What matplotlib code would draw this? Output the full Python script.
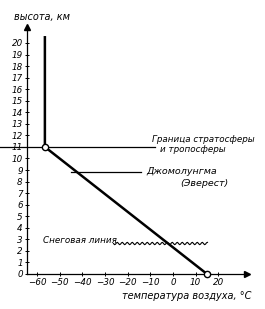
import matplotlib
matplotlib.use("Agg")
import matplotlib.pyplot as plt

# data
temp_profile_T = [15, -56.5, -56.5]
temp_profile_h = [0, 11, 20.6]
tropopause_h = 11
everest_h = 8.85
snowline_h = 2.7
yticks = list(range(0, 21))
xticks = [-60, -50, -40, -30, -20, -10, 0, 10, 20]

FONT = dict(family="DejaVu Sans", style="italic")

fig = plt.figure(figsize=(2.65, 3.09), dpi=100)
ax = fig.add_axes([0, 0, 1, 1])
ax.set_xlim(-76.3, 40.6)
ax.set_ylim(-3.03, 23.72)
ax.patch.set_alpha(0)

yax_x = -64.4
ax.spines['left'].set_position(('data', yax_x))
ax.spines['bottom'].set_position(('data', 0))
ax.spines['right'].set_visible(False)
ax.spines['top'].set_visible(False)
ax.spines['left'].set_bounds(0, 21.2)
ax.spines['bottom'].set_bounds(yax_x, 32)
for s in ('left', 'bottom'):
    ax.spines[s].set_linewidth(0.9)

# arrows
ax.plot([yax_x], [21.4], marker='^', color='black', markersize=4, clip_on=False)
ax.plot([32.6], [0], marker='>', color='black', markersize=4, clip_on=False)

ax.set_yticks(yticks)
ax.set_yticklabels([str(v) for v in yticks], **FONT, fontsize=6.3)
ax.set_xticks(xticks)
ax.set_xticklabels([str(v).replace('-', '\u2212') for v in xticks], **FONT, fontsize=6.3)
ax.tick_params(axis='both', direction='inout', length=3, width=0.7, pad=1.5)

# temperature profile
ax.plot(temp_profile_T, temp_profile_h, color='black', lw=1.8, solid_capstyle='butt', zorder=3)
ax.plot([temp_profile_T[1], temp_profile_T[0]], [temp_profile_h[1], temp_profile_h[0]],
        ls='none', marker='o', markersize=4.5, mfc='white', mec='black', mew=1.0, zorder=4,
        clip_on=False)

# tropopause
ax.plot([-76.3, -8], [tropopause_h, tropopause_h], color='black', lw=0.9, zorder=2)
ax.text(-9.3, 11.65, "Граница стратосферы", fontsize=6.3, va='center', ha='left', **FONT)
ax.text(-5.8, 10.75, "и тропосферы", fontsize=6.3, va='center', ha='left', **FONT)

# everest
ax.plot([-45, -14], [everest_h, everest_h], color='black', lw=0.9, zorder=2)
ax.text(-11.9, everest_h, "Джомолунгма", fontsize=6.8, va='center', ha='left', **FONT)
ax.text(3.1, everest_h - 1.0, "(Эверест)", fontsize=6.8, va='center', ha='left', **FONT)

# snow line
ln, = ax.plot([-26.5, 15], [snowline_h, snowline_h], color='black', lw=0.8, zorder=2)
ln.set_sketch_params(scale=1.2, length=5, randomness=1)
ax.text(-57.4, 2.9, "Снеговая линия", fontsize=6.3, va='center', ha='left', **FONT)

# axis labels
ax.text(-70.1, 22.25, "высота, км", fontsize=7, va='center', ha='left', **FONT)
ax.text(34.8, -1.9, "температура воздуха, °С", fontsize=7, va='center', ha='right', **FONT)

fig.savefig("out.png", dpi=100)
